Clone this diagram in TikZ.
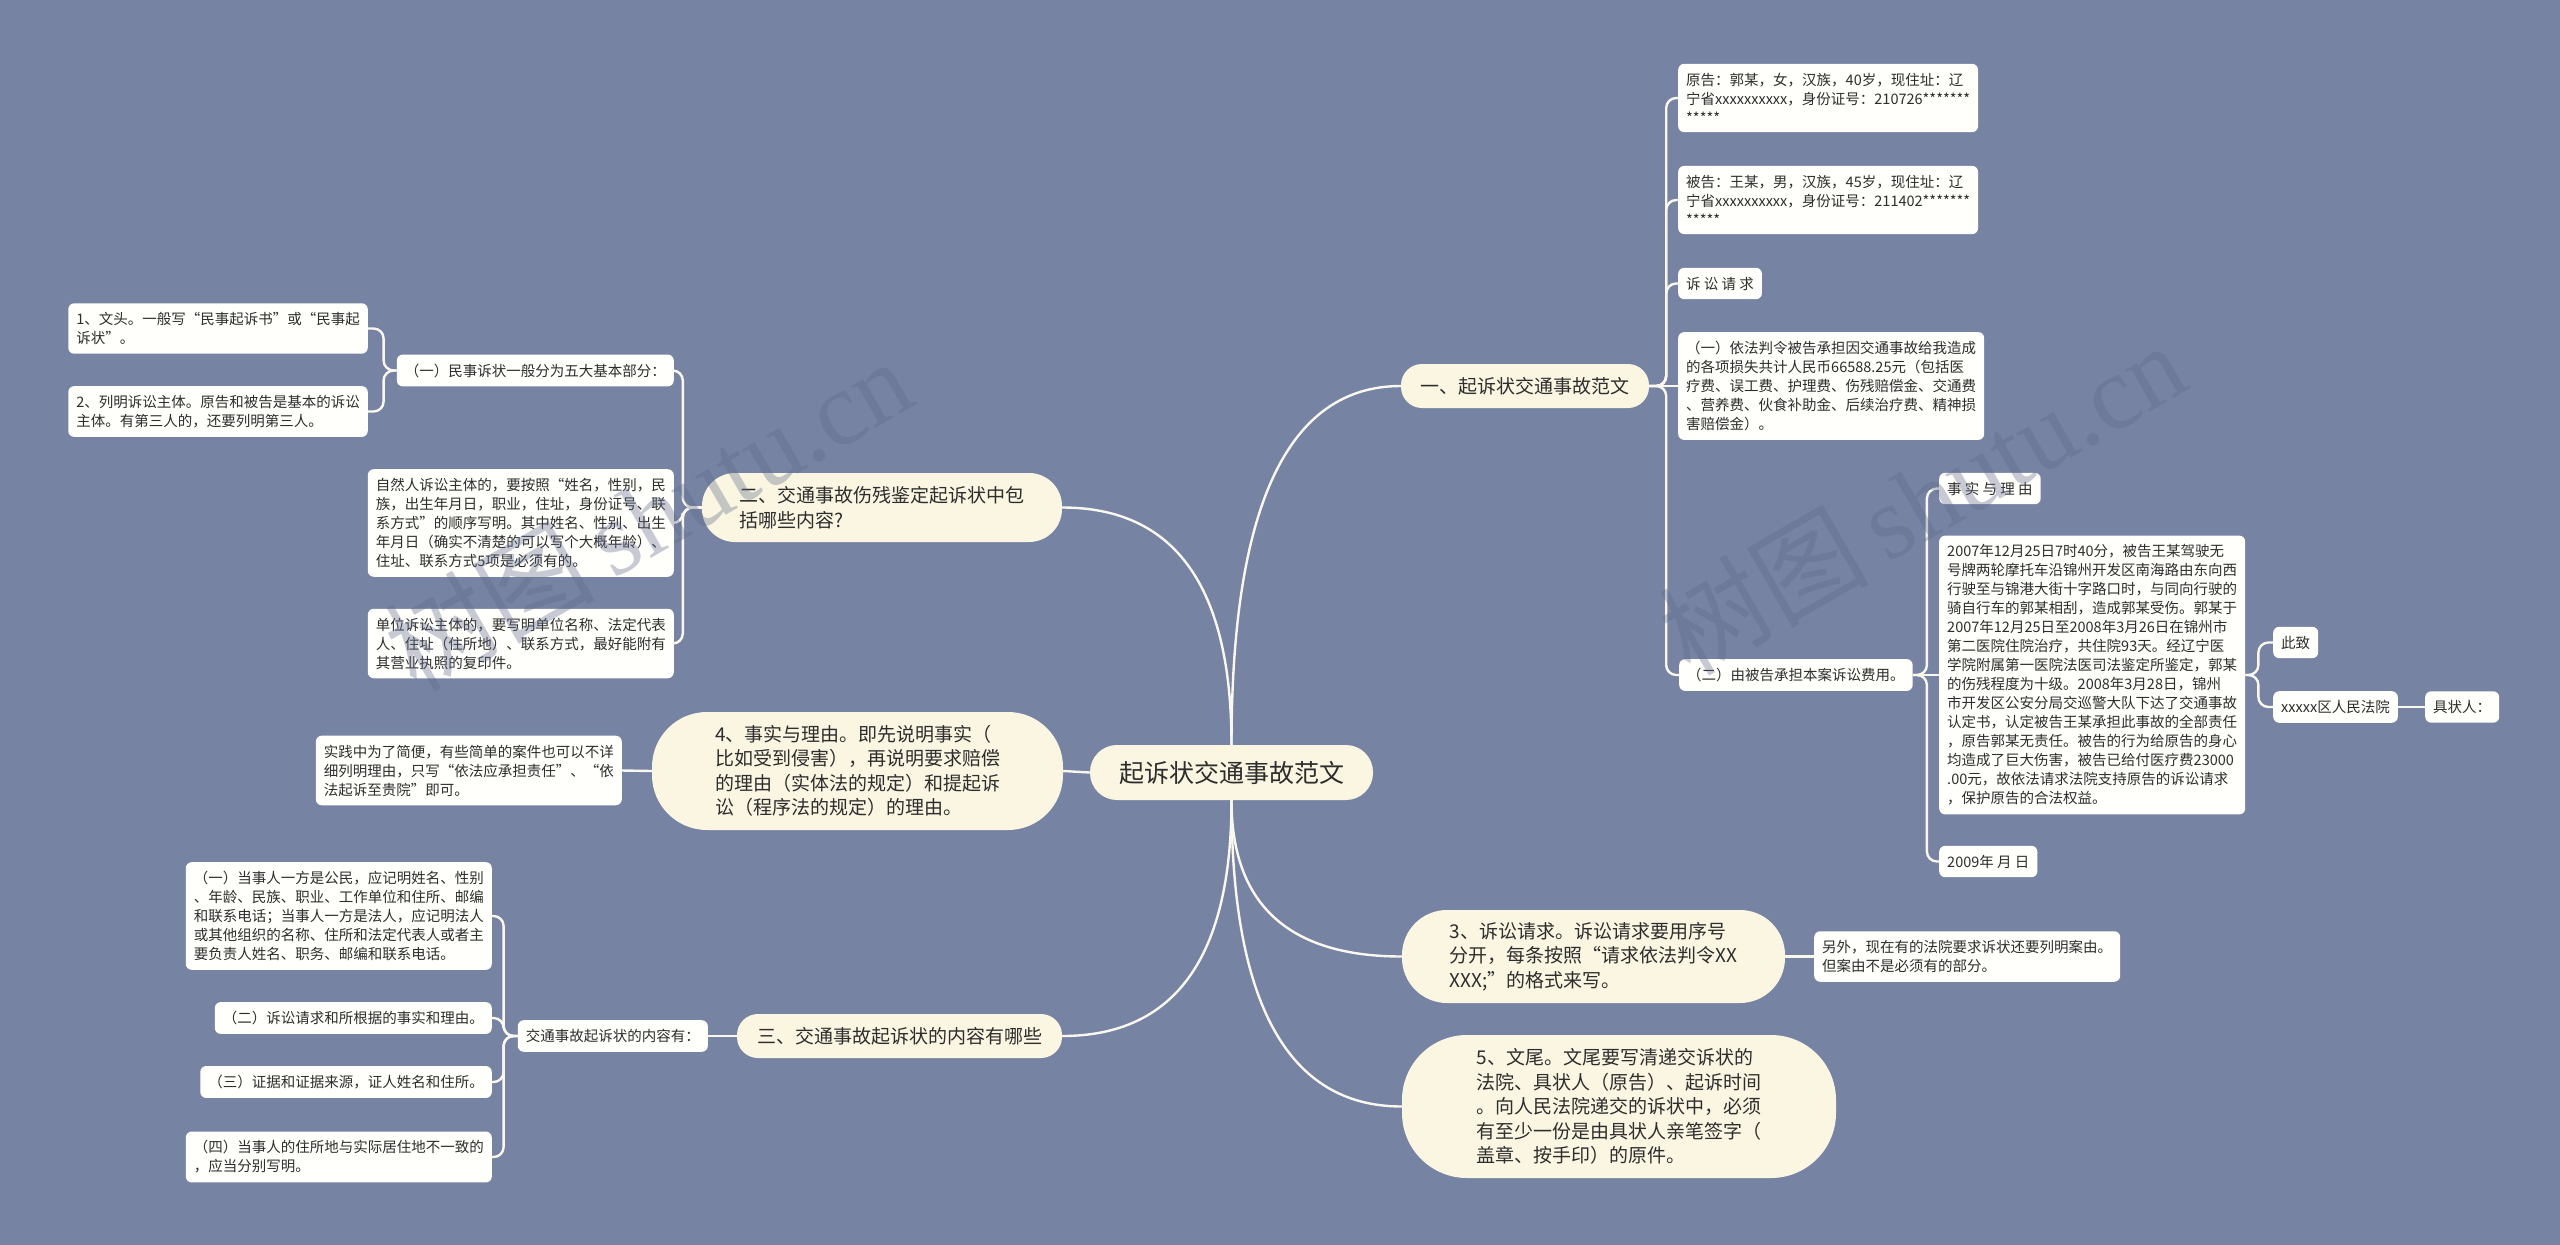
\documentclass[tikz,border=0pt]{standalone}
\usepackage{fontspec}
\newfontfamily\cjk{Noto Sans CJK SC}
\newfontfamily\wmserif{Liberation Serif}
\definecolor{bg}{RGB}{119,131,163}
\definecolor{pillc}{RGB}{250,246,226}
\definecolor{leafc}{RGB}{255,255,251}
\definecolor{linec}{RGB}{250,248,238}
\definecolor{txt}{RGB}{45,45,45}
\definecolor{wm}{RGB}{95,106,138}
\begin{document}
\begin{tikzpicture}[x=1pt,y=-1pt,
  leaf/.style={fill=leafc, rounded corners=6pt, inner xsep=8pt, inner ysep=9pt, align=left, text=txt, font=\cjk\fontsize{14.5}{19}\selectfont},
  pill/.style={fill=pillc, inner sep=0pt, align=left, text=txt, font=\cjk\fontsize{19}{24.5}\selectfont},
  conn/.style={draw=linec, line width=2.4pt, rounded corners=10pt},
  curv/.style={draw=linec, line width=2.4pt},
  wmark/.style={text=wm, opacity=0.35, rotate=30}
]
\useasboundingbox (0,0) rectangle (2560,1245);
\fill[bg] (0,0) rectangle (2560,1245);

% ---- main nodes
\node[pill, minimum width=283pt, minimum height=55pt, rounded corners=27pt, font=\cjk\fontsize{25}{30}\selectfont] (c) at (1231.5,772.5) {起诉状交通事故范文};
\node[pill, minimum width=248pt, minimum height=44pt, rounded corners=21pt] (b1) at (1525,386) {一、起诉状交通事故范文};
\node[pill, minimum width=360pt, minimum height=69pt, rounded corners=33pt] (b2) at (882,507.5) {二、交通事故伤残鉴定起诉状中包\\括哪些内容?};
\node[pill, minimum width=411pt, minimum height=118pt, rounded corners=55pt] (b4) at (857.5,771) {4、事实与理由。即先说明事实（\\比如受到侵害），再说明要求赔偿\\的理由（实体法的规定）和提起诉\\讼（程序法的规定）的理由。};
\node[pill, minimum width=325pt, minimum height=44pt, rounded corners=21pt] (b3) at (899.5,1036) {三、交通事故起诉状的内容有哪些};
\node[pill, minimum width=383pt, minimum height=93pt, rounded corners=45pt] (b5) at (1593.5,956.5) {3、诉讼请求。诉讼请求要用序号\\分开，每条按照“请求依法判令XX\\XXX;”的格式来写。};
\node[pill, minimum width=434pt, minimum height=143pt, rounded corners=65pt] (b6) at (1619,1106.5) {5、文尾。文尾要写清递交诉状的\\法院、具状人（原告）、起诉时间\\。向人民法院递交的诉状中，必须\\有至少一份是由具状人亲笔签字（\\盖章、按手印）的原件。};

% ---- right leaves
\node[leaf, anchor=west] (r1) at (1678,98) {原告：郭某，女，汉族，40岁，现住址：辽\\宁省xxxxxxxxxx，身份证号：210726*******\\*****};
\node[leaf, anchor=west] (r2) at (1678,200) {被告：王某，男，汉族，45岁，现住址：辽\\宁省xxxxxxxxxx，身份证号：211402*******\\*****};
\node[leaf, anchor=west] (r3) at (1678,283.5) {诉 讼 请 求};
\node[leaf, anchor=west] (r4) at (1678,386) {（一）依法判令被告承担因交通事故给我造成\\的各项损失共计人民币66588.25元（包括医\\疗费、误工费、护理费、伤残赔偿金、交通费\\、营养费、伙食补助金、后续治疗费、精神损\\害赔偿金）。};
\node[leaf, anchor=west] (r5) at (1679,675) {（二）由被告承担本案诉讼费用。};
\node[leaf, anchor=west] (s1) at (1939,488.5) {事 实 与 理 由};
\node[leaf, anchor=west] (s2) at (1939,675) {2007年12月25日7时40分，被告王某驾驶无\\号牌两轮摩托车沿锦州开发区南海路由东向西\\行驶至与锦港大街十字路口时，与同向行驶的\\骑自行车的郭某相刮，造成郭某受伤。郭某于\\2007年12月25日至2008年3月26日在锦州市\\第二医院住院治疗，共住院93天。经辽宁医\\学院附属第一医院法医司法鉴定所鉴定，郭某\\的伤残程度为十级。2008年3月28日，锦州\\市开发区公安分局交巡警大队下达了交通事故\\认定书，认定被告王某承担此事故的全部责任\\，原告郭某无责任。被告的行为给原告的身心\\均造成了巨大伤害，被告已给付医疗费23000\\.00元，故依法请求法院支持原告的诉讼请求\\，保护原告的合法权益。};
\node[leaf, anchor=west] (s3) at (1939,861.5) {2009年 月 日};
\node[leaf, anchor=west] (t1) at (2273,642.5) {此致};
\node[leaf, anchor=west] (t2) at (2273,707) {xxxxx区人民法院};
\node[leaf, anchor=west] (t3) at (2425,707) {具状人：};
\node[leaf, anchor=west] (u1) at (1814,956.5) {另外，现在有的法院要求诉状还要列明案由。\\但案由不是必须有的部分。};

% ---- left leaves
\node[leaf, anchor=east] (l1) at (674,370.5) {（一）民事诉状一般分为五大基本部分：};
\node[leaf, anchor=east] (l2) at (368,328.5) {1、文头。一般写“民事起诉书”或“民事起\\诉状”。};
\node[leaf, anchor=east] (l3) at (368,411.5) {2、列明诉讼主体。原告和被告是基本的诉讼\\主体。有第三人的，还要列明第三人。};
\node[leaf, anchor=east] (l4) at (674,523) {自然人诉讼主体的，要按照“姓名，性别，民\\族，出生年月日，职业，住址，身份证号、联\\系方式”的顺序写明。其中姓名、性别、出生\\年月日（确实不清楚的可以写个大概年龄）、\\住址、联系方式5项是必须有的。};
\node[leaf, anchor=east] (l5) at (674,643.5) {单位诉讼主体的，要写明单位名称、法定代表\\人、住址（住所地）、联系方式，最好能附有\\其营业执照的复印件。};
\node[leaf, anchor=east] (l6) at (622,770.5) {实践中为了简便，有些简单的案件也可以不详\\细列明理由，只写“依法应承担责任”、“依\\法起诉至贵院”即可。};
\node[leaf, anchor=east] (l7) at (708,1036) {交通事故起诉状的内容有：};
\node[leaf, anchor=east] (l8) at (492,916) {（一）当事人一方是公民，应记明姓名、性别\\、年龄、民族、职业、工作单位和住所、邮编\\和联系电话；当事人一方是法人，应记明法人\\或其他组织的名称、住所和法定代表人或者主\\要负责人姓名、职务、邮编和联系电话。};
\node[leaf, anchor=east] (l9) at (492,1018) {（二）诉讼请求和所根据的事实和理由。};
\node[leaf, anchor=east] (l10) at (492,1082) {（三）证据和证据来源，证人姓名和住所。};
\node[leaf, anchor=east] (l11) at (492,1157) {（四）当事人的住所地与实际居住地不一致的\\，应当分别写明。};

% ---- connectors from centre
\draw[curv] (c.north) .. controls (1231.5,505.7) and (1288,386) .. (b1.west);
\draw[curv] (c.north) .. controls (1231.5,586.7) and (1175,507.5) .. (b2.east);
\draw[curv] (c.south) .. controls (1231.5,957.3) and (1175,1036) .. (b3.east);
\draw[curv] (c.south) .. controls (1231.5,904.3) and (1288.3,956.5) .. (b5.west);
\draw[curv] (c.south) .. controls (1231.5,1004.3) and (1288.3,1106.5) .. (b6.west);
\draw[curv] (c.west) -- (b4.east);

% ---- right connectors
\draw[conn] (b1.east) -- ++(17,0) |- (r1.west);
\draw[conn] (b1.east) -- ++(17,0) |- (r2.west);
\draw[conn] (b1.east) -- ++(17,0) |- (r3.west);
\draw[conn] (b1.east) -- (r4.west);
\draw[conn] (b1.east) -- ++(17,0) |- (r5.west);
\draw[conn] (r5.east) -- ++(14,0) |- (s1.west);
\draw[conn] (r5.east) -- (s2.west);
\draw[conn] (r5.east) -- ++(14,0) |- (s3.west);
\draw[conn] (s2.east) -- ++(13,0) |- (t1.west);
\draw[conn] (s2.east) -- ++(13,0) |- (t2.west);
\draw[conn] (t2.east) -- (t3.west);
\draw[conn] (b5.east) -- (u1.west);

% ---- left connectors
\draw[conn] (b2.west) -- ++(-19,0) |- (l1.east);
\draw[conn] (b2.west) -- ++(-19,0) |- (l4.east);
\draw[conn] (b2.west) -- ++(-19,0) |- (l5.east);
\draw[conn] (l1.west) -- ++(-13,0) |- (l2.east);
\draw[conn] (l1.west) -- ++(-13,0) |- (l3.east);
\draw[conn] (b4.west) -- (l6.east);
\draw[conn] (b3.west) -- (l7.east);
\draw[conn] (l7.west) -- ++(-14,0) |- (l8.east);
\draw[conn] (l7.west) -- ++(-14,0) |- (l9.east);
\draw[conn] (l7.west) -- ++(-14,0) |- (l10.east);
\draw[conn] (l7.west) -- ++(-14,0) |- (l11.east);

% ---- watermarks
\node[wmark] (w1) at (648,514) {\cjk\fontsize{105}{110}\selectfont 树图\,\wmserif shutu.cn};
\node[wmark] (w2) at (1922,498) {\cjk\fontsize{105}{110}\selectfont 树图\,\wmserif shutu.cn};
\end{tikzpicture}
\end{document}
